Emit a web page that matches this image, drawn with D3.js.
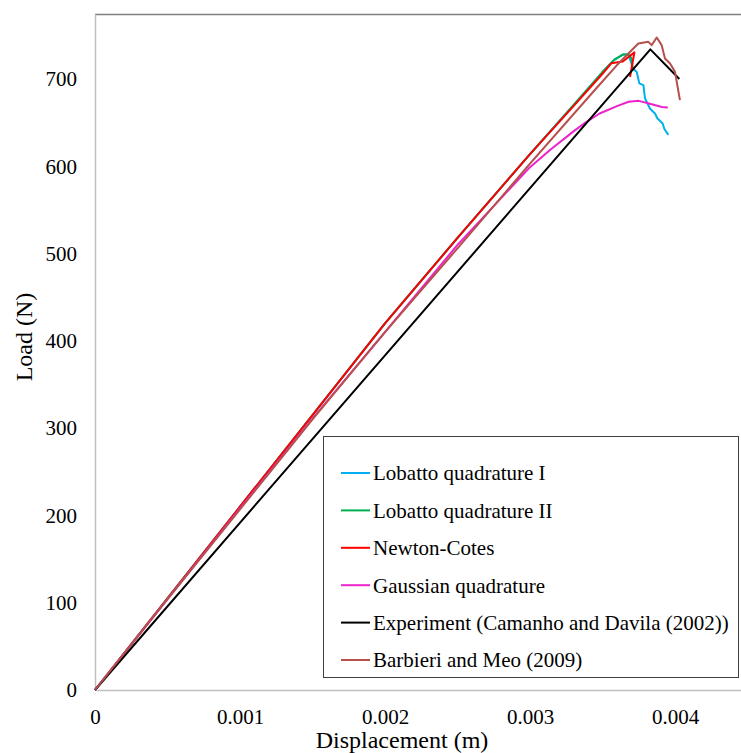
<!DOCTYPE html>
<html>
<head>
<meta charset="utf-8">
<script src="https://cdn.jsdelivr.net/npm/d3@7/dist/d3.min.js"></script>
<style>
  html, body { margin: 0; padding: 0; background: #fff; }
  svg { display: block; }
  text { font-family: "Liberation Serif", "Times New Roman", serif; fill: #000; }
</style>
</head>
<body>
<svg id="chart" width="741" height="753"></svg>
<script>
// Load–displacement curves (displacement in m, load in N)
const lobattoI = [
  [0, 0], [0.0005, 105], [0.001, 210], [0.0015, 315], [0.002, 420], [0.0025, 518],
  [0.003, 614], [0.0033, 670], [0.0035, 708], [0.00358, 722], [0.00364, 728],
  [0.00368, 728], [0.00371, 712], [0.003736, 708], [0.003754, 695], [0.003782, 693],
  [0.003793, 678], [0.003828, 666], [0.003862, 660.5], [0.003878, 655],
  [0.003915, 649], [0.003926, 643], [0.003954, 636]
];
const lobattoII = [
  [0, 0], [0.0005, 105], [0.001, 210], [0.0015, 315], [0.002, 420], [0.0025, 518],
  [0.003, 614], [0.0033, 670], [0.0035, 708], [0.00358, 722], [0.00364, 728],
  [0.00368, 728], [0.0037, 724], [0.00371, 710]
];
const newtonCotes = [
  [0, 0], [0.0005, 105], [0.001, 210], [0.0015, 315], [0.002, 420], [0.0025, 518],
  [0.003, 614], [0.0033, 669], [0.0035, 706], [0.00356, 718], [0.00364, 720],
  [0.00372, 730.5], [0.00369, 702.5]
];
const gaussian = [
  [0, 0], [0.0005, 104], [0.001, 208], [0.0015, 311], [0.002, 410], [0.0025, 510],
  [0.003, 599], [0.00314, 619], [0.0033, 640], [0.00339, 651], [0.00348, 660.5],
  [0.0036, 669], [0.00368, 674], [0.00375, 675], [0.00382, 672], [0.00391, 668],
  [0.00395, 667.4]
];
const experiment = [
  [0, 0], [0.00383, 734], [0.00403, 700]
];
const barbieri = [
  [0, 0], [0.0005, 104], [0.001, 207], [0.0015, 310], [0.002, 410], [0.0025, 506],
  [0.003, 603], [0.00345, 688], [0.0036, 716], [0.003747, 740.7], [0.003816, 742.6],
  [0.003839, 738.8], [0.003874, 747.6], [0.003908, 738.8], [0.003931, 723.5],
  [0.003966, 717.8], [0.004, 708.2], [0.004034, 675.8]
];

const seriesNames = [
  "Lobatto quadrature I",
  "Lobatto quadrature II",
  "Newton-Cotes",
  "Gaussian quadrature",
  "Experiment (Camanho and Davila (2002))",
  "Barbieri and Meo (2009)"
];
const seriesData = [lobattoI, lobattoII, newtonCotes, gaussian, experiment, barbieri];
const seriesColors = ["#00b0f0", "#00b050", "#ff0000", "#ee22cc", "#000000", "#b5504c"];

const xTicks = [0, 0.001, 0.002, 0.003, 0.004];
const xTickLabels = ["0", "0.001", "0.002", "0.003", "0.004"];
const yTicks = [0, 100, 200, 300, 400, 500, 600, 700];

const svg = d3.select("#chart");

const x = d3.scaleLinear().domain([0, 0.0045]).range([95, 747.5]);
const y = d3.scaleLinear().domain([0, 774.5]).range([690, 14]);

// Top frame line of the plot area
svg.append("line")
  .attr("x1", 95).attr("x2", 741)
  .attr("y1", 14.5).attr("y2", 14.5)
  .attr("stroke", "#7f7f7f").attr("stroke-width", 1.5);

// Axes
const xAxis = d3.axisBottom(x)
  .tickValues(xTicks)
  .tickFormat((d, i) => xTickLabels[i])
  .tickSize(0)
  .tickPadding(19);
const gx = svg.append("g").attr("transform", "translate(0,690)").call(xAxis);
gx.select(".domain").attr("stroke", "#bfbfbf").attr("stroke-width", 1.5);
gx.selectAll("text").attr("font-size", 21).attr("font-family", "Liberation Serif");

const yAxis = d3.axisLeft(y)
  .tickValues(yTicks)
  .tickFormat(d3.format("d"))
  .tickSize(0)
  .tickPadding(18);
const gy = svg.append("g").attr("transform", "translate(95,0)").call(yAxis);
gy.select(".domain").attr("stroke", "#bfbfbf").attr("stroke-width", 1.5);
gy.selectAll("text").attr("font-size", 21).attr("font-family", "Liberation Serif");

// Axis titles
svg.append("text")
  .attr("x", 402).attr("y", 748)
  .attr("text-anchor", "middle")
  .attr("font-size", 24)
  .text("Displacement (m)");

svg.append("text")
  .attr("transform", "translate(32,337) rotate(-90)")
  .attr("text-anchor", "middle")
  .attr("font-size", 24)
  .text("Load (N)");

// Curves
const line = d3.line().x(d => x(d[0])).y(d => y(d[1]));
const plot = svg.append("g");
seriesData.forEach((data, i) => {
  plot.append("path")
    .datum(data)
    .attr("d", line)
    .attr("fill", "none")
    .attr("stroke", seriesColors[i])
    .attr("stroke-width", 2)
    .attr("stroke-linejoin", "round");
});

// Legend
const legend = svg.append("g");
legend.append("rect")
  .attr("x", 323.5).attr("y", 436.5)
  .attr("width", 415).attr("height", 241)
  .attr("fill", "#fff")
  .attr("stroke", "#404040").attr("stroke-width", 1);

seriesNames.forEach((name, i) => {
  const yy = 473 + i * 37.4;
  legend.append("line")
    .attr("x1", 341).attr("x2", 370)
    .attr("y1", yy).attr("y2", yy)
    .attr("stroke", seriesColors[i]).attr("stroke-width", 2);
  legend.append("text")
    .attr("x", 373).attr("y", yy)
    .attr("dy", "0.35em")
    .attr("font-size", 21)
    .text(name);
});
</script>
</body>
</html>
